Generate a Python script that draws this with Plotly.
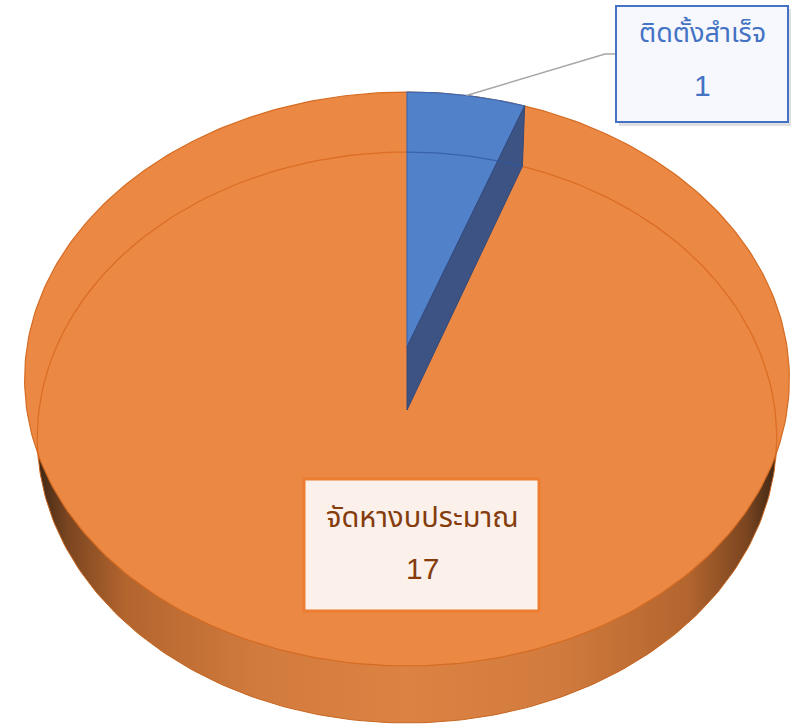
import numpy as np
import plotly.graph_objects as go

# ---- data ----
labels = ["ติดตั้งสำเร็จ", "จัดหางบประมาณ"]
values = [1, 17]
label_text_colors = ["#4472C4", "#843C0C"]

# ---- geometry (perspective pie) ----
W, H = 791, 728
CX = 407.0
TOP = dict(cy=347.0, a=380.0, b=283.4, p=0.1115)
BOT = dict(cy=410.0, a=368.0, b=282.8, p=0.0963)


def proj(theta_deg, pl):
    t = np.radians(np.asarray(theta_deg, dtype=float))
    u, v = np.sin(t), np.cos(t)
    d = 1 + pl["p"] * v
    return CX + pl["a"] * u / d, pl["cy"] - pl["b"] * v / d


total = sum(values)
spans = [360.0 * v / total for v in values]
starts = np.cumsum([0] + spans[:-1])
blue_start, blue_end = starts[0], starts[0] + spans[0]
mid_blue = (blue_start + blue_end) / 2

fig = go.Figure()

# side wall (bottom disc with horizontal gradient)
th = np.linspace(0, 360, 361)
bx, by = proj(th, BOT)
fig.add_trace(go.Scatter(
    x=bx, y=by, mode="lines", fill="toself",
    line=dict(color="#C8651F", width=1),
    fillgradient=dict(type="horizontal", colorscale=[
        [0.0, "#3e2614"], [0.04, "#7a4520"], [0.12, "#b3652e"], [0.3, "#d27b3e"],
        [0.5, "#dc8343"], [0.7, "#d27b3e"], [0.88, "#b3652e"], [0.96, "#7a4520"],
        [1.0, "#3e2614"]]),
    hoverinfo="skip", showlegend=False))

# top face of orange slice (full disc, blue drawn over)
tx, ty = proj(th, TOP)
fig.add_trace(go.Scatter(
    x=tx, y=ty, mode="lines", fill="toself", fillcolor="#EB8944",
    line=dict(color="#D56B22", width=1.2),
    hoverinfo="skip", showlegend=False))

# faint back edge of bottom seen through the top
thf = np.concatenate([np.linspace(-100, blue_start, 60), [np.nan], np.linspace(blue_end, 100, 60)])
fx, fy = proj(thf, BOT)
fig.add_trace(go.Scatter(
    x=fx, y=fy, mode="lines", line=dict(color="rgba(214,100,25,0.75)", width=1.3),
    hoverinfo="skip", showlegend=False, connectgaps=False))

# blue slice top face
ct_x, ct_y = proj(0, dict(TOP, a=0, b=0))
cb_x, cb_y = proj(0, dict(BOT, a=0, b=0))
thb = np.linspace(blue_start, blue_end, 40)
ax_, ay_ = proj(thb, TOP)
fig.add_trace(go.Scatter(
    x=np.concatenate([[ct_x], ax_, [ct_x]]), y=np.concatenate([[ct_y], ay_, [ct_y]]),
    mode="lines", fill="toself", fillcolor="#5181C9",
    line=dict(color="#3E67AE", width=1.2), hoverinfo="skip", showlegend=False))

# blue slice cut wall
ex_t, ey_t = proj(blue_end, TOP)
ex_b, ey_b = proj(blue_end, BOT)
fig.add_trace(go.Scatter(
    x=[ct_x, ex_t, ex_b, cb_x, ct_x], y=[ct_y, ey_t, ey_b, cb_y, ct_y],
    mode="lines", fill="toself", fillcolor="#3C5383",
    line=dict(color="#34497A", width=1), hoverinfo="skip", showlegend=False))

# faint back edge through blue slice
fbx, fby = proj(np.linspace(blue_start, blue_end, 30), BOT)
fig.add_trace(go.Scatter(
    x=fbx, y=fby, mode="lines", line=dict(color="rgba(45,85,160,0.7)", width=1.3),
    hoverinfo="skip", showlegend=False))

# leader line
lx, ly = proj(mid_blue, TOP)
fig.add_trace(go.Scatter(
    x=[lx, 605, 617], y=[ly, 54, 54], mode="lines",
    line=dict(color="#A6A6A6", width=1.5), hoverinfo="skip", showlegend=False))

# label boxes
shapes = [
    dict(type="rect", xref="x", yref="y", x0=619, y0=9, x1=791, y1=126,
         fillcolor="rgba(0,0,0,0.12)", line=dict(width=0), layer="above"),
    dict(type="rect", xref="x", yref="y", x0=616, y0=6, x1=788, y1=122,
         fillcolor="#F6F8FD", line=dict(color="#4472C4", width=2), layer="above"),
    dict(type="rect", xref="x", yref="y", x0=304, y0=479, x1=539, y1=611,
         fillcolor="#FBF0EA", line=dict(color="#ED7D31", width=3), layer="above"),
]

thai_font = "Tahoma, 'Leelawadee UI', 'Noto Sans Thai', 'Noto Sans', 'DejaVu Sans', sans-serif"
num_font = "Arial, 'Liberation Sans', sans-serif"
box_specs = [(702, 33, 85, 27), (422, 518, 568, 29)]
annotations = []
for lab, val, col, (bxc, y1, y2, fs) in zip(labels, values, label_text_colors, box_specs):
    annotations.append(dict(x=bxc, y=y1, xref="x", yref="y", text=lab, showarrow=False,
                            font=dict(family=thai_font, size=fs, color=col)))
    annotations.append(dict(x=bxc, y=y2, xref="x", yref="y", text=str(val), showarrow=False,
                            font=dict(family=num_font, size=30, color=col)))

fig.update_layout(
    width=W, height=H, margin=dict(l=0, r=0, t=0, b=0),
    paper_bgcolor="white", plot_bgcolor="white",
    xaxis=dict(range=[0, W], visible=False, fixedrange=True),
    yaxis=dict(range=[H, 0], visible=False, fixedrange=True),
    shapes=shapes, annotations=annotations, showlegend=False)

fig.write_html("out.html")
